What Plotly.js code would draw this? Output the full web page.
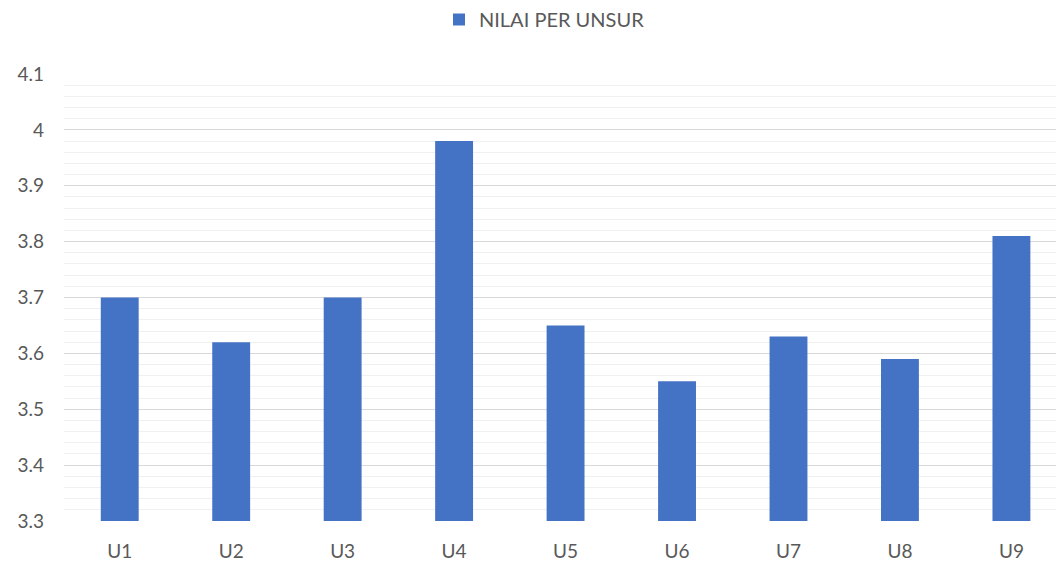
<!DOCTYPE html>
<html>
<head>
<meta charset="utf-8">
<script src="https://cdn.plot.ly/plotly-3.0.1.min.js"></script>
<style>html,body{margin:0;padding:0;background:#fff;}#chart{width:1056px;height:565px;}</style>
</head>
<body>
<div id="chart"></div>
<script>
var categories = ["U1","U2","U3","U4","U5","U6","U7","U8","U9"];
var values = [3.70, 3.62, 3.70, 3.98, 3.65, 3.55, 3.63, 3.59, 3.81];
var seriesName = "NILAI PER UNSUR";
var yTicks = [3.3, 3.4, 3.5, 3.6, 3.7, 3.8, 3.9, 4, 4.1];
var yTickText = ["3.3","3.4","3.5","3.6","3.7","3.8","3.9","4","4.1"];

var trace = {
  type: "bar",
  x: categories,
  y: values,
  name: seriesName,
  width: 0.34,
  marker: {color: "#4472c4", line: {width: 0}},
  showlegend: true,
  hoverinfo: "x+y"
};

var layout = {
  width: 1056,
  height: 565,
  margin: {l: 64, r: 0, t: 73, b: 44},
  paper_bgcolor: "#ffffff",
  plot_bgcolor: "#ffffff",
  font: {family: "Lato, 'Open Sans', sans-serif", color: "#595959", size: 19},
  showlegend: true,
  legend: {
    orientation: "h",
    x: 0.378, xanchor: "left",
    y: 1.165, yanchor: "top",
    font: {size: 20, color: "#595959"},
    bgcolor: "rgba(0,0,0,0)",
    itemwidth: 30
  },
  xaxis: {
    type: "category",
    range: [-0.5, 8.4],
    showgrid: false,
    zeroline: false,
    showline: false,
    ticks: "",
    tickfont: {size: 19, color: "#595959"},
    ticklabelstandoff: 17
  },
  yaxis: {
    range: [3.3, 4.1],
    tickvals: yTicks,
    ticktext: yTickText,
    showgrid: true,
    gridcolor: "#d9d9d9",
    gridwidth: 1,
    zeroline: false,
    showline: false,
    ticks: "",
    tickfont: {size: 19, color: "#595959"},
    ticklabelstandoff: 19,
    minor: {dtick: 0.02, showgrid: true, gridcolor: "#f0f0f0", gridwidth: 1}
  },
  bargap: 0.66
};

Plotly.newPlot("chart", [trace], layout, {displayModeBar: false, staticPlot: true});
</script>
</body>
</html>
